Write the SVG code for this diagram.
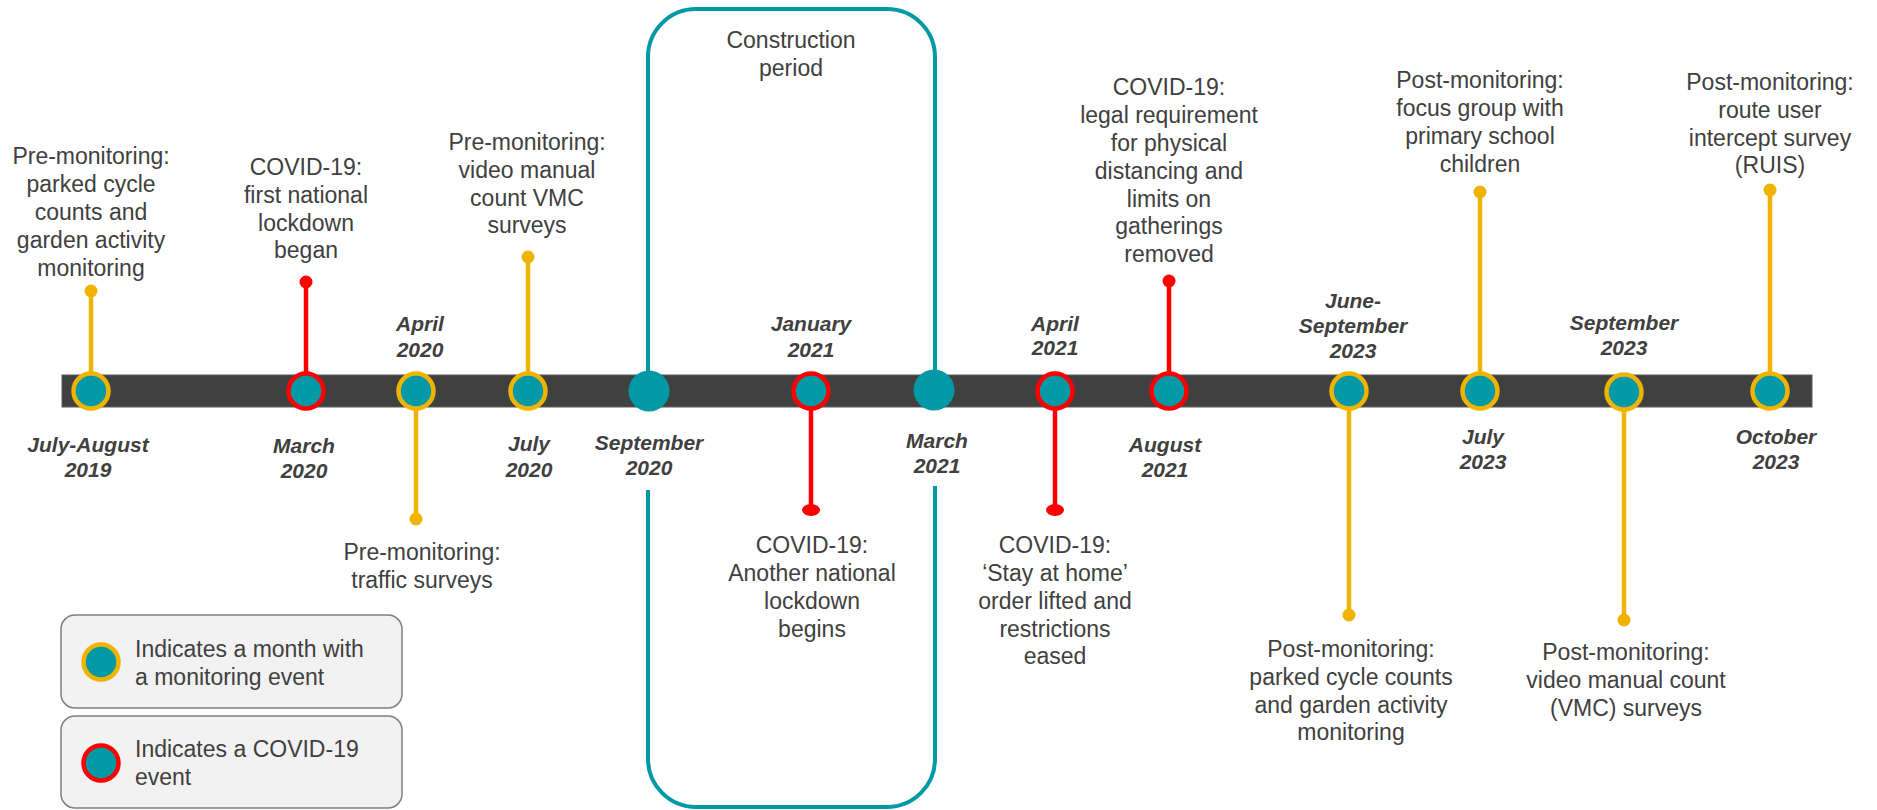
<svg xmlns="http://www.w3.org/2000/svg" width="1877" height="810" viewBox="0 0 1877 810">
<style>
.lbl{font-family:"Liberation Sans",Arial,sans-serif;font-size:23px;fill:#404040;text-anchor:middle}
.dt{font-family:"Liberation Sans",Arial,sans-serif;font-size:21px;font-weight:bold;font-style:italic;fill:#404040;text-anchor:middle}
.leg{font-family:"Liberation Sans",Arial,sans-serif;font-size:23px;fill:#404040}
.mon{fill:#0099A5;stroke:#F0B400;stroke-width:4.5}
.cov{fill:#0099A5;stroke:#FF0000;stroke-width:4.5}
.plain{fill:#0099A5}
.sy{stroke:#F0B400;stroke-width:4.5;fill:none}
.sr{stroke:#FF0000;stroke-width:4.5;fill:none}
.dy{fill:#F0B400}
.dr{fill:#FF0000}
.lbox{fill:#F2F2F2;stroke:#7F7F7F;stroke-width:1.5}
</style>
<rect width="1877" height="810" fill="#FFFFFF"/>
<g id="construction-period">
<rect x="648" y="9" width="287" height="798" rx="48" ry="48" fill="none" stroke="#0099A5" stroke-width="4"/>
<text class="lbl" x="791" y="48">Construction</text>
<text class="lbl" x="791" y="76">period</text>
</g>
<g id="timeline-bar">
<rect x="62" y="375" width="1750" height="32" fill="#404040" stroke="#5a5a5a" stroke-width="1"/>
</g>
<g id="connectors">
<line class="sy" x1="91" y1="391" x2="91" y2="291"/><circle class="dy" cx="91" cy="291" r="6.5"/>
<line class="sr" x1="306" y1="391" x2="306" y2="282"/><circle class="dr" cx="306" cy="282" r="6.5"/>
<line class="sy" x1="416" y1="391" x2="416" y2="519"/><circle class="dy" cx="416" cy="519" r="6.5"/>
<line class="sy" x1="528" y1="391" x2="528" y2="257"/><circle class="dy" cx="528" cy="257" r="6.5"/>
<line class="sr" x1="811" y1="391" x2="811" y2="510"/><ellipse class="dr" cx="811" cy="510" rx="9" ry="6"/>
<line class="sr" x1="1055" y1="391" x2="1055" y2="510"/><ellipse class="dr" cx="1055" cy="510" rx="9" ry="6"/>
<line class="sr" x1="1169" y1="391" x2="1169" y2="281"/><circle class="dr" cx="1169" cy="281" r="6.5"/>
<line class="sy" x1="1349" y1="391" x2="1349" y2="615"/><circle class="dy" cx="1349" cy="615" r="6.5"/>
<line class="sy" x1="1480" y1="391" x2="1480" y2="192"/><circle class="dy" cx="1480" cy="192" r="6.5"/>
<line class="sy" x1="1624" y1="391" x2="1624" y2="620"/><circle class="dy" cx="1624" cy="620" r="6.5"/>
<line class="sy" x1="1770" y1="391" x2="1770" y2="190"/><circle class="dy" cx="1770" cy="190" r="6.5"/>
</g>
<g id="n-jul-aug-2019">
<circle class="mon" cx="91" cy="391" r="17.5"/>
<text class="dt" x="88" y="452">July-August</text><text class="dt" x="88" y="477">2019</text>
<text class="lbl" x="91" y="164">Pre-monitoring:</text><text class="lbl" x="91" y="192">parked cycle</text><text class="lbl" x="91" y="220">counts and</text><text class="lbl" x="91" y="248">garden activity</text><text class="lbl" x="91" y="276">monitoring</text>
</g>
<g id="n-mar-2020">
<circle class="cov" cx="306" cy="391" r="17.5"/>
<text class="dt" x="304" y="453">March</text><text class="dt" x="304" y="478">2020</text>
<text class="lbl" x="306" y="175">COVID-19:</text><text class="lbl" x="306" y="203">first national</text><text class="lbl" x="306" y="231">lockdown</text><text class="lbl" x="306" y="258">began</text>
</g>
<g id="n-apr-2020">
<circle class="mon" cx="416" cy="391" r="17.5"/>
<text class="dt" x="420" y="331">April</text><text class="dt" x="420" y="357">2020</text>
<text class="lbl" x="422" y="560">Pre-monitoring:</text><text class="lbl" x="422" y="588">traffic surveys</text>
</g>
<g id="n-jul-2020">
<circle class="mon" cx="528" cy="391" r="17.5"/>
<text class="dt" x="529" y="451">July</text><text class="dt" x="529" y="477">2020</text>
<text class="lbl" x="527" y="150">Pre-monitoring:</text><text class="lbl" x="527" y="178">video manual</text><text class="lbl" x="527" y="206">count VMC</text><text class="lbl" x="527" y="233">surveys</text>
</g>
<g id="n-sep-2020">
<rect x="590" y="408" width="130" height="82" fill="#FFFFFF"/>
<circle class="plain" cx="649" cy="391" r="20.5"/>
<text class="dt" x="649" y="450">September</text><text class="dt" x="649" y="475">2020</text>
</g>
<g id="n-jan-2021">
<circle class="cov" cx="811" cy="391" r="17.5"/>
<text class="dt" x="811" y="331">January</text><text class="dt" x="811" y="357">2021</text>
<text class="lbl" x="812" y="553">COVID-19:</text><text class="lbl" x="812" y="581">Another national</text><text class="lbl" x="812" y="609">lockdown</text><text class="lbl" x="812" y="637">begins</text>
</g>
<g id="n-mar-2021">
<rect x="885" y="408" width="105" height="78" fill="#FFFFFF"/>
<circle class="plain" cx="934" cy="390" r="20.5"/>
<text class="dt" x="937" y="448">March</text><text class="dt" x="937" y="473">2021</text>
</g>
<g id="n-apr-2021">
<circle class="cov" cx="1055" cy="391" r="17.5"/>
<text class="dt" x="1055" y="331">April</text><text class="dt" x="1055" y="355">2021</text>
<text class="lbl" x="1055" y="553">COVID-19:</text><text class="lbl" x="1055" y="581">‘Stay at home’</text><text class="lbl" x="1055" y="609">order lifted and</text><text class="lbl" x="1055" y="637">restrictions</text><text class="lbl" x="1055" y="664">eased</text>
</g>
<g id="n-aug-2021">
<circle class="cov" cx="1169" cy="391" r="17.5"/>
<text class="dt" x="1165" y="452">August</text><text class="dt" x="1165" y="477">2021</text>
<text class="lbl" x="1169" y="95">COVID-19:</text><text class="lbl" x="1169" y="123">legal requirement</text><text class="lbl" x="1169" y="151">for physical</text><text class="lbl" x="1169" y="179">distancing and</text><text class="lbl" x="1169" y="207">limits on</text><text class="lbl" x="1169" y="234">gatherings</text><text class="lbl" x="1169" y="262">removed</text>
</g>
<g id="n-jun-sep-2023">
<circle class="mon" cx="1349" cy="391" r="17.5"/>
<text class="dt" x="1353" y="308">June-</text><text class="dt" x="1353" y="333">September</text><text class="dt" x="1353" y="358">2023</text>
<text class="lbl" x="1351" y="657">Post-monitoring:</text><text class="lbl" x="1351" y="685">parked cycle counts</text><text class="lbl" x="1351" y="713">and garden activity</text><text class="lbl" x="1351" y="740">monitoring</text>
</g>
<g id="n-jul-2023">
<circle class="mon" cx="1480" cy="391" r="17.5"/>
<text class="dt" x="1483" y="444">July</text><text class="dt" x="1483" y="469">2023</text>
<text class="lbl" x="1480" y="88">Post-monitoring:</text><text class="lbl" x="1480" y="116">focus group with</text><text class="lbl" x="1480" y="144">primary school</text><text class="lbl" x="1480" y="172">children</text>
</g>
<g id="n-sep-2023">
<circle class="mon" cx="1624" cy="392" r="17.5"/>
<text class="dt" x="1624" y="330">September</text><text class="dt" x="1624" y="355">2023</text>
<text class="lbl" x="1626" y="660">Post-monitoring:</text><text class="lbl" x="1626" y="688">video manual count</text><text class="lbl" x="1626" y="716">(VMC) surveys</text>
</g>
<g id="n-oct-2023">
<circle class="mon" cx="1770" cy="391" r="17.5"/>
<text class="dt" x="1776" y="444">October</text><text class="dt" x="1776" y="469">2023</text>
<text class="lbl" x="1770" y="90">Post-monitoring:</text><text class="lbl" x="1770" y="118">route user</text><text class="lbl" x="1770" y="146">intercept survey</text><text class="lbl" x="1770" y="173">(RUIS)</text>
</g>
<g id="legend-monitoring">
<rect class="lbox" x="61" y="615" width="341" height="93" rx="14" ry="14"/>
<circle class="mon" cx="101" cy="662" r="17.5"/>
<text class="leg" x="135" y="657">Indicates a month with</text>
<text class="leg" x="135" y="685">a monitoring event</text>
</g>
<g id="legend-covid">
<rect class="lbox" x="61" y="716" width="341" height="92" rx="14" ry="14"/>
<circle class="cov" cx="101" cy="763" r="17.5"/>
<text class="leg" x="135" y="757">Indicates a COVID-19</text>
<text class="leg" x="135" y="785">event</text>
</g>
</svg>
